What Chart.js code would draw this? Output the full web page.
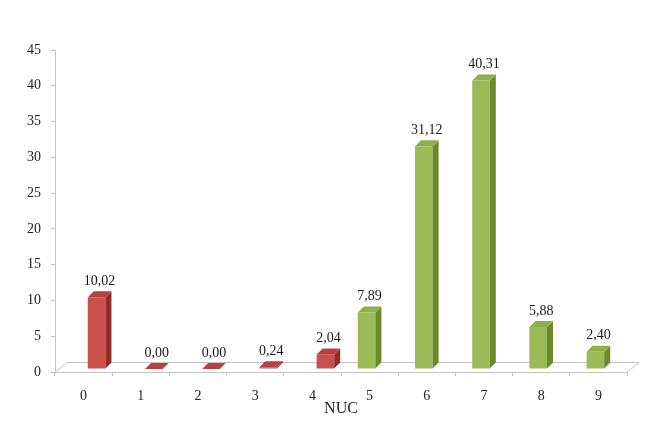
<!DOCTYPE html>
<html><head><meta charset="utf-8">
<script src="https://cdn.jsdelivr.net/npm/chart.js@4"></script>
<style>html,body{margin:0;padding:0;background:#fff}#wrap{width:672px;height:442px}</style>
</head><body><div id="wrap"><canvas id="c" width="672" height="442"></canvas></div>
<script>
const categories = ['0', '1', '2', '3', '4', '5', '6', '7', '8', '9'];
const redValues = [10.02, 0.00, 0.00, 0.24, 2.04, null, null, null, null, null];
const greenValues = [null, null, null, null, null, 7.89, 31.12, 40.31, 5.88, 2.40];
const yTickMin = 0, yTickMax = 45, yTickStep = 5;
const xTitle = 'NUC';

const SERIF = "'Liberation Serif', 'Times New Roman', serif";
const DX = 6, DY = -6, SHIFT_X = 5, SHIFT_Y = -3, FLOOR_DX = 12, FLOOR_DY = -10;
const faces = {
  green: {front: '#9BBB59', side: '#6B8A2C', top: '#8DB04A'},
  red: {front: '#C9504C', side: '#8E2E2B', top: '#B7413E'}
};
const fmt = v => v.toFixed(2).replace('.', ',');

const bar3d = {
  id: 'bar3d',
  beforeDatasetsDraw(chart) {
    const {ctx, chartArea: a} = chart;
    ctx.save();
    ctx.strokeStyle = '#C4C4C4';
    ctx.lineWidth = 1;
    ctx.beginPath();
    ctx.moveTo(a.left, a.bottom + 0.5);
    ctx.lineTo(a.left + FLOOR_DX, a.bottom + FLOOR_DY + 0.5);
    ctx.lineTo(a.right + FLOOR_DX, a.bottom + FLOOR_DY + 0.5);
    ctx.lineTo(a.right, a.bottom + 0.5);
    ctx.stroke();
    ctx.restore();
    ctx.save();
    ctx.translate(SHIFT_X, SHIFT_Y);
  },
  afterDatasetsDraw(chart) {
    const {ctx} = chart;
    chart.data.datasets.forEach((ds, di) => {
      const meta = chart.getDatasetMeta(di);
      const f = faces[ds.faceKey];
      meta.data.forEach((el, i) => {
        const v = ds.data[i];
        if (v === null || v === undefined) return;
        const {x, y, base, width} = el.getProps(['x', 'y', 'base', 'width'], true);
        const l = x - width / 2, r = x + width / 2;
        ctx.fillStyle = f.side;
        ctx.beginPath();
        ctx.moveTo(r, y); ctx.lineTo(r + DX, y + DY); ctx.lineTo(r + DX, base + DY); ctx.lineTo(r, base);
        ctx.closePath(); ctx.fill();
        ctx.fillStyle = f.top;
        ctx.beginPath();
        ctx.moveTo(l, y); ctx.lineTo(l + DX, y + DY); ctx.lineTo(r + DX, y + DY); ctx.lineTo(r, y);
        ctx.closePath(); ctx.fill();
        ctx.fillStyle = '#1a1a1a';
        ctx.font = '14px ' + SERIF;
        ctx.textAlign = 'center';
        ctx.textBaseline = 'bottom';
        ctx.fillText(fmt(v), x + DX / 2, y + DY - 3);
      });
    });
    ctx.restore();
  }
};

new Chart(document.getElementById('c'), {
  type: 'bar',
  data: {
    labels: categories,
    datasets: [
      {label: 'green', faceKey: 'green', data: greenValues, backgroundColor: faces.green.front, clip: false},
      {label: 'red', faceKey: 'red', data: redValues, backgroundColor: faces.red.front, clip: false}
    ]
  },
  options: {
    responsive: false,
    animation: false,
    devicePixelRatio: 1,
    layout: {padding: {top: 50, right: 45, bottom: 0, left: 0}},
    categoryPercentage: 0.56,
    barPercentage: 1.1,
    plugins: {legend: {display: false}, tooltip: {enabled: false}},
    scales: {
      x: {
        grid: {display: true, drawOnChartArea: false, offset: true, tickLength: 4, color: '#BFBFBF'},
        border: {display: true, color: '#C4C4C4'},
        ticks: {padding: 12, color: '#222', font: {family: SERIF, size: 14}},
        title: {display: true, text: xTitle, color: '#222', font: {family: SERIF, size: 16}, padding: {top: 0, bottom: 24}},
        afterFit: s => { s.height = 70; }
      },
      y: {
        min: yTickMin, max: yTickMax,
        grid: {display: true, drawOnChartArea: false, tickLength: 4, color: '#BFBFBF'},
        border: {display: true, color: '#C4C4C4'},
        ticks: {stepSize: yTickStep, padding: 10, color: '#222', font: {family: SERIF, size: 14}},
        afterFit: s => { s.width = 55; }
      }
    }
  },
  plugins: [bar3d]
});
</script>
</body></html>
